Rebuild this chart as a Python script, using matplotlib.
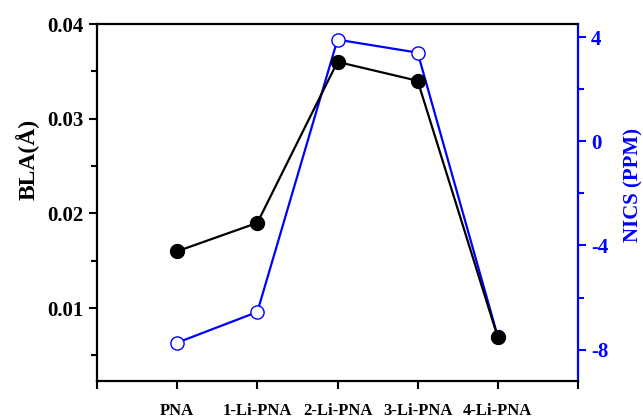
import numpy as np
import matplotlib
matplotlib.use("Agg")
import matplotlib.pyplot as plt
from matplotlib.ticker import MultipleLocator, FixedLocator

plt.rcParams['font.family'] = ['Liberation Serif', 'DejaVu Serif']
plt.rcParams['font.weight'] = 'bold'
plt.rcParams['axes.unicode_minus'] = False

categories = ['PNA', '1-Li-PNA', '2-Li-PNA', '3-Li-PNA', '4-Li-PNA']
bla = [0.016, 0.019, 0.036, 0.034, 0.0069]
nics = [-7.73, -6.55, 3.9, 3.4, -7.5]

x = np.arange(len(categories))

fig = plt.figure(figsize=(6.43, 4.18), dpi=100)
ax = fig.add_axes([97 / 643, 37 / 418, 481 / 643, 357 / 418])
ax2 = ax.twinx()

ax.plot(x, bla, 'o-', color='black', lw=1.6, markersize=10, zorder=3)
ax2.plot(x, nics, 'o-', color='blue', lw=1.6, markersize=9.5,
         markerfacecolor='white', markeredgecolor='blue', markeredgewidth=1.0)
ax.set_zorder(ax2.get_zorder() + 1)
ax.patch.set_visible(False)

ax.set_xlim(-1, 5)
ax.set_ylim(0.0023, 0.04)
ax2.set_ylim(-9.2, 4.5)

ax.xaxis.set_major_locator(FixedLocator(np.arange(-1, 6)))
ax.set_xticklabels([''] + categories + [''])
ax.yaxis.set_major_locator(FixedLocator([0.01, 0.02, 0.03, 0.04]))
ax.set_yticklabels(['0.01', '0.02', '0.03', '0.04'])
ax.yaxis.set_minor_locator(MultipleLocator(0.005))
ax2.yaxis.set_major_locator(MultipleLocator(4))
ax2.yaxis.set_minor_locator(MultipleLocator(2))

for a in (ax, ax2):
    for s in a.spines.values():
        s.set_linewidth(1.6)
ax.spines['right'].set_visible(False)
ax2.spines['right'].set_color('blue')
ax2.spines['left'].set_visible(False)
ax2.spines['top'].set_visible(False)
ax2.spines['bottom'].set_visible(False)

ax.tick_params(axis='both', which='both', direction='out', width=1.5, labelsize=15)
ax.tick_params(axis='both', which='major', length=6)
ax.tick_params(axis='y', which='minor', length=4)
ax.tick_params(axis='x', pad=10, labelsize=12)
ax2.tick_params(axis='y', which='both', colors='blue', width=1.5, labelsize=15)
ax2.tick_params(axis='y', which='major', length=6)
ax2.tick_params(axis='y', which='minor', length=4)

ax.set_ylabel('BLA(Å)', fontsize=17, fontweight='bold')
ax2.set_ylabel('NICS (PPM)', fontsize=15, fontweight='bold', color='blue')
ax.yaxis.set_label_coords(-0.12, 0.62)
ax2.yaxis.set_label_coords(1.095, 0.55)

fig.savefig('out.png', dpi=100)
